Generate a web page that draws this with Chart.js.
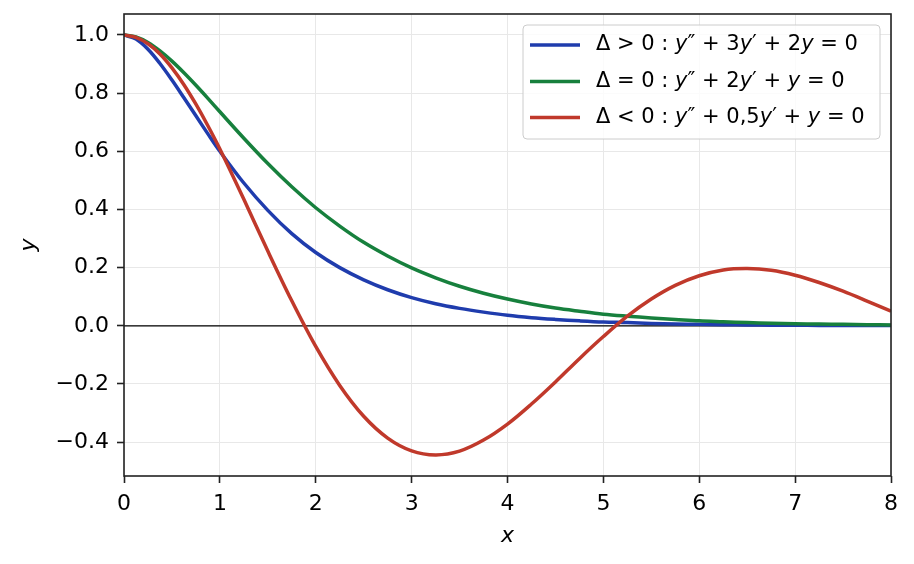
<!DOCTYPE html>
<html>
<head>
<meta charset="utf-8">
<script src="https://cdn.jsdelivr.net/npm/chart.js@4.4.1/dist/chart.umd.min.js"></script>
<style>
  html, body { margin: 0; padding: 0; background: #fff; }
  #wrap { width: 914px; height: 564px; }
</style>
</head>
<body>
<div id="wrap"><canvas id="chart" width="914" height="564"></canvas></div>
<script>
// values (finer steps near x = 0)
const xs = [0, 0.125, 0.25, 0.375, 0.5, 0.625, 0.75, 0.875, 1, 1.25, 1.5, 1.75, 2, 2.25, 2.5, 2.75,
  3, 3.25, 3.5, 3.75, 4, 4.25, 4.5, 4.75, 5, 5.25, 5.5, 5.75, 6, 6.25, 6.5, 6.75, 7, 7.25, 7.5, 7.75, 8];
const overdamped = [1, 0.986, 0.951, 0.902, 0.845, 0.784, 0.722, 0.660, 0.600, 0.491, 0.397, 0.317,
  0.252, 0.200, 0.158, 0.124, 0.097, 0.076, 0.060, 0.047, 0.036, 0.028, 0.022, 0.017, 0.013, 0.011,
  0.008, 0.006, 0.005, 0.004, 0.003, 0.002, 0.002, 0.001, 0.001, 0.001, 0.001];
const critical = [1, 0.993, 0.974, 0.945, 0.910, 0.870, 0.827, 0.782, 0.736, 0.645, 0.558, 0.478,
  0.406, 0.343, 0.287, 0.240, 0.199, 0.165, 0.136, 0.112, 0.092, 0.075, 0.061, 0.050, 0.040, 0.033,
  0.027, 0.022, 0.017, 0.014, 0.011, 0.009, 0.007, 0.006, 0.005, 0.004, 0.003];
const underdamped = [1, 0.992, 0.970, 0.935, 0.887, 0.829, 0.762, 0.688, 0.608, 0.435, 0.257, 0.086,
  -0.071, -0.205, -0.311, -0.386, -0.430, -0.444, -0.431, -0.393, -0.338, -0.269, -0.193, -0.113,
  -0.037, 0.033, 0.092, 0.139, 0.172, 0.192, 0.197, 0.191, 0.174, 0.149, 0.119, 0.085, 0.050];
const yTicks = [-0.4, -0.2, 0.0, 0.2, 0.4, 0.6, 0.8, 1.0];

const seriesNames = ["overdamped", "critical", "underdamped"];
const seriesColors = ["#1f3cad", "#17803d", "#c0392b"];
const legendParts = [
  [["Δ > 0 : ", 0], ["y", 1], ["″ + 3", 0], ["y", 1], ["′ + 2", 0], ["y", 1], [" = 0", 0]],
  [["Δ = 0 : ", 0], ["y", 1], ["″ + 2", 0], ["y", 1], ["′ + ", 0], ["y", 1], [" = 0", 0]],
  [["Δ < 0 : ", 0], ["y", 1], ["″ + 0,5", 0], ["y", 1], ["′ + ", 0], ["y", 1], [" = 0", 0]]
];

const FONT = "'DejaVu Sans', sans-serif";

function points(vals) {
  return xs.map((x, i) => ({ x: x, y: vals[i] }));
}

const framePlugin = {
  id: "frame",
  beforeDatasetsDraw(chart) {
    const { ctx, chartArea } = chart;
    const y0 = chart.scales.y.getPixelForValue(0);
    ctx.save();
    ctx.strokeStyle = "#000";
    ctx.lineWidth = 1.3;
    ctx.beginPath();
    ctx.moveTo(chartArea.left, y0);
    ctx.lineTo(chartArea.right, y0);
    ctx.stroke();
    ctx.restore();
  },
  afterDraw(chart) {
    const { ctx, chartArea } = chart;
    ctx.save();
    ctx.strokeStyle = "#222";
    ctx.lineWidth = 1.6;
    ctx.strokeRect(chartArea.left, chartArea.top, chartArea.right - chartArea.left, chartArea.bottom - chartArea.top);

    // axis titles
    ctx.fillStyle = "#000";
    ctx.font = "italic 22px " + FONT;
    ctx.textAlign = "center";
    ctx.textBaseline = "middle";
    ctx.fillText("x", (chartArea.left + chartArea.right) / 2, 536);
    ctx.save();
    ctx.translate(29, (chartArea.top + chartArea.bottom) / 2);
    ctx.rotate(-Math.PI / 2);
    ctx.fillText("y", 0, 0);
    ctx.restore();

    // legend
    const bx = 523, by = 25, bw = 357, bh = 114;
    ctx.beginPath();
    ctx.roundRect(bx, by, bw, bh, 4);
    ctx.fillStyle = "rgba(255,255,255,0.8)";
    ctx.fill();
    ctx.strokeStyle = "#cccccc";
    ctx.lineWidth = 1;
    ctx.stroke();
    const rowY = [45, 81.5, 117.5];
    legendParts.forEach((parts, r) => {
      ctx.strokeStyle = seriesColors[r];
      ctx.lineWidth = 3.5;
      ctx.beginPath();
      ctx.moveTo(530, rowY[r]);
      ctx.lineTo(580, rowY[r]);
      ctx.stroke();
      let tx = 596;
      ctx.textAlign = "left";
      ctx.fillStyle = "#000";
      parts.forEach(([t, it]) => {
        ctx.font = (it ? "italic " : "") + "21px " + FONT;
        ctx.fillText(t, tx, rowY[r]);
        tx += ctx.measureText(t).width;
      });
    });
    ctx.restore();
  }
};

new Chart(document.getElementById("chart"), {
  type: "line",
  data: {
    datasets: [overdamped, critical, underdamped].map((vals, i) => ({
      label: seriesNames[i],
      data: points(vals),
      borderColor: seriesColors[i],
      backgroundColor: seriesColors[i],
      borderWidth: 3.5,
      pointRadius: 0,
      tension: 0.35,
      order: 3 - i
    }))
  },
  options: {
    responsive: false,
    animation: false,
    layout: { padding: { top: 14, right: 23, left: 0, bottom: 0 } },
    plugins: { legend: { display: false }, tooltip: { enabled: false } },
    scales: {
      x: {
        type: "linear",
        min: 0,
        max: 8,
        afterFit(scale) {
          scale.height = 88;
          scale.paddingLeft = 0;
          scale.paddingRight = 0;
        },
        ticks: { stepSize: 1, color: "#000", font: { family: FONT, size: 22 }, padding: 8, maxRotation: 0 },
        grid: { color: "#e8e8e8", lineWidth: 1, tickColor: "#222", tickLength: 7, tickWidth: 1.6 },
        border: { display: false }
      },
      y: {
        min: -0.5165,
        max: 1.0722,
        afterFit(scale) {
          scale.width = 124;
          scale.paddingTop = 0;
          scale.paddingBottom = 0;
        },
        afterBuildTicks(scale) { scale.ticks = yTicks.map(v => ({ value: v })); },
        ticks: {
          color: "#000",
          font: { family: FONT, size: 22 },
          padding: 8,
          callback: v => v.toFixed(1).replace("-", "−")
        },
        grid: { color: "#e8e8e8", lineWidth: 1, tickColor: "#222", tickLength: 7, tickWidth: 1.6 },
        border: { display: false }
      }
    }
  },
  plugins: [framePlugin]
});
</script>
</body>
</html>
